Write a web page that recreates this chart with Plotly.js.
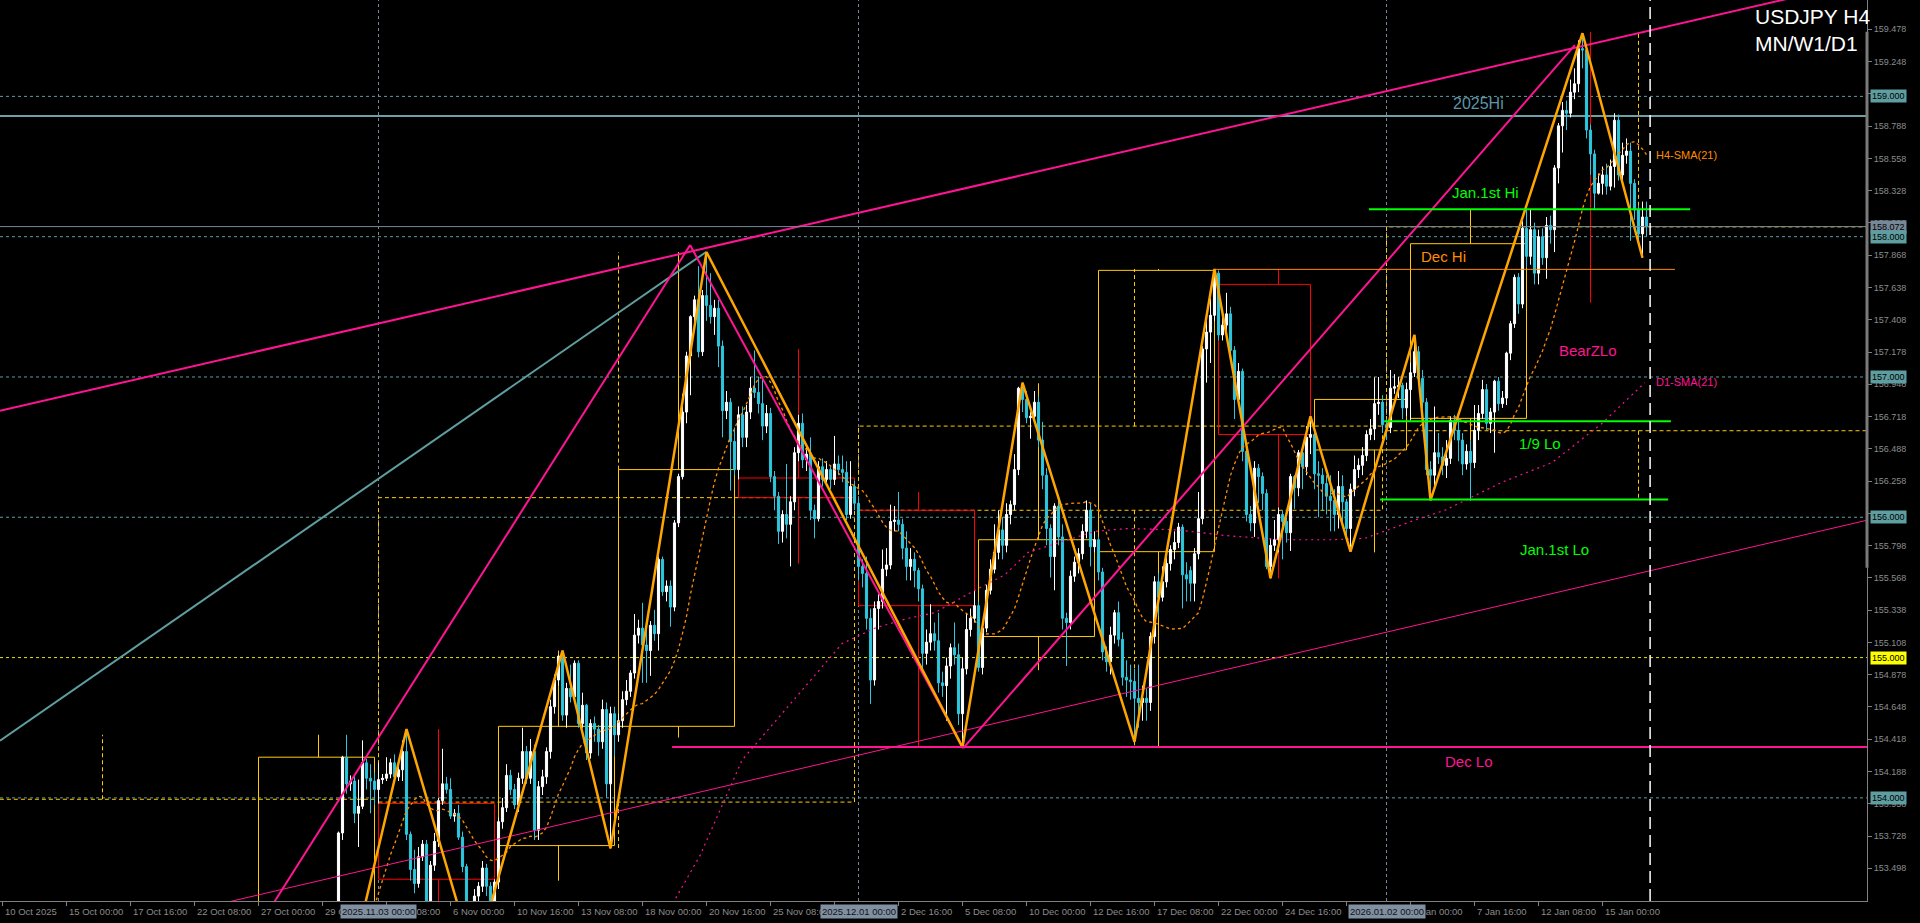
<!DOCTYPE html>
<html>
<head>
<meta charset="utf-8">
<script src="https://cdn.plot.ly/plotly-3.0.1.min.js"></script>
<style>
html,body{margin:0;padding:0;background:#000;overflow:hidden;}
#chart{width:1920px;height:923px;}
</style>
</head>
<body>
<div id="chart"></div>
<script>
// ---------- DATA (bar index 0 = 15 Oct 2025 00:00, H4 bars) ----------
const FIRST_BAR = 57;
const barOpen = [
152.30,152.20,152.10,152.25,152.45,152.60,152.50,152.40,152.30,152.70,
152.55,153.10,153.75,154.29,154.10,154.12,153.89,153.94,154.25,154.14,
154.12,154.06,154.13,154.14,154.17,154.25,154.15,154.20,154.33,153.74,
153.49,153.39,153.58,153.67,153.20,153.52,153.69,153.98,154.10,154.06,
153.87,153.89,153.72,153.51,153.15,153.05,153.30,153.37,153.50,153.37,
153.26,153.40,153.83,153.93,154.16,154.06,153.95,154.14,154.33,154.14,
154.33,153.77,154.08,154.15,154.33,154.65,154.84,155.01,154.59,154.78,
154.72,154.96,154.53,154.66,154.32,154.53,154.49,154.40,154.63,154.10,
154.60,154.45,154.55,154.70,154.76,154.89,155.16,155.21,155.09,155.05,
155.23,155.17,155.70,155.47,155.51,155.36,155.96,156.29,156.75,157.15,
157.43,157.55,157.18,157.58,157.51,157.43,157.49,157.22,156.76,156.82,
156.54,156.34,156.73,156.57,156.75,156.92,156.89,156.81,156.65,156.74,
156.29,156.15,155.90,156.02,155.95,156.11,156.46,156.67,156.41,156.45,
156.05,155.99,156.36,156.27,156.34,156.27,156.38,156.34,156.32,156.02,
156.22,156.10,155.65,155.60,155.28,154.84,155.35,155.40,155.63,155.66,
155.97,155.98,155.95,155.78,155.65,155.70,155.62,155.49,155.03,155.11,
155.17,155.12,154.82,154.80,154.94,155.07,155.02,154.60,154.92,155.20,
155.28,155.37,154.93,155.21,155.48,155.63,155.75,155.91,155.80,156.02,
156.09,156.34,156.92,156.84,156.71,156.72,156.82,156.55,156.30,155.92,
155.72,156.08,155.86,155.28,155.25,155.58,155.68,155.74,155.90,156.05,
155.79,155.84,155.61,155.04,154.97,155.16,155.32,155.13,154.86,154.84,
154.83,154.71,154.68,154.71,154.68,155.15,155.54,155.43,155.54,155.67,
155.77,155.82,155.93,155.59,155.62,155.53,155.74,155.99,157.20,157.32,
157.44,157.74,157.30,157.37,157.45,157.19,156.84,157.04,156.47,156.02,
155.96,156.35,156.29,156.17,155.65,155.80,155.84,156.02,155.97,155.89,
156.29,156.21,156.46,156.36,156.57,156.59,156.31,156.30,156.24,156.15,
156.12,156.02,156.22,156.11,155.92,156.20,156.34,156.37,156.44,156.59,
156.63,156.81,156.82,156.66,156.64,156.92,156.93,156.94,156.78,156.91,
157.03,157.18,156.99,156.82,156.34,156.30,156.46,156.43,156.37,156.42,
156.69,156.62,156.55,156.38,156.47,156.39,156.62,156.74,156.91,156.67,
156.75,156.97,156.81,156.85,157.17,157.38,157.71,157.52,158.06,157.86,
158.05,157.74,158.00,157.85,158.08,158.05,158.49,158.79,158.90,158.88,
159.03,159.09,159.34,159.33,158.76,158.59,158.31,158.38,158.44,158.36,
158.50,158.83,158.44,158.58,158.61,158.38,158.19,158.02,158.14];
const barHigh = [
152.45,152.35,152.30,152.55,152.75,152.80,152.70,152.60,152.80,152.90,
153.15,153.76,154.30,154.45,154.16,154.16,154.13,154.41,154.28,154.24,
154.18,154.25,154.17,154.29,154.28,154.31,154.23,154.41,154.49,153.76,
153.63,153.65,153.70,153.70,153.55,153.75,154.00,154.35,154.15,154.14,
153.92,153.95,153.76,153.53,153.20,153.35,153.40,153.55,153.53,153.40,
153.42,153.86,154.00,154.24,154.20,154.10,154.18,154.50,154.37,154.42,
154.38,154.12,154.20,154.36,154.70,154.88,155.02,155.05,154.82,154.95,
154.98,154.98,154.75,154.67,154.56,154.58,154.52,154.70,154.68,154.65,
154.65,154.60,154.76,154.84,154.91,155.31,155.27,155.39,155.27,155.26,
155.34,155.72,155.72,155.55,155.55,155.98,156.31,156.88,157.18,157.44,
157.58,157.79,157.62,157.89,157.74,157.55,157.55,157.26,156.90,156.85,
156.64,156.79,156.79,156.80,157.00,157.19,157.00,156.98,156.80,156.78,
156.33,156.18,156.05,156.38,156.15,156.50,156.73,156.74,156.52,156.57,
156.09,156.40,156.42,156.40,156.37,156.58,156.44,156.44,156.40,156.40,
156.26,156.14,155.70,155.72,155.35,155.40,155.45,155.77,155.78,156.09,
156.08,156.18,155.99,155.90,155.78,155.75,155.64,155.52,155.20,155.38,
155.25,155.32,154.90,155.00,155.10,155.25,155.10,155.00,155.31,155.35,
155.48,155.40,155.25,155.52,155.70,155.95,156.05,156.00,156.10,156.12,
156.45,156.93,156.96,156.90,156.75,156.90,156.86,156.68,156.35,155.95,
156.10,156.16,155.95,155.32,155.62,155.72,155.78,155.95,156.12,156.10,
155.90,155.86,155.64,155.08,155.22,155.34,155.40,155.18,154.98,154.95,
154.92,154.95,154.80,154.78,155.18,155.58,155.60,155.65,155.75,155.80,
155.90,155.96,155.95,155.68,155.65,155.78,156.18,157.22,157.42,157.56,
157.77,157.76,157.45,157.60,157.50,157.22,157.10,157.06,156.50,156.08,
156.40,156.38,156.32,156.20,155.85,155.98,156.07,156.05,156.00,156.31,
156.30,156.48,156.49,156.65,156.72,156.60,156.40,156.35,156.30,156.30,
156.20,156.33,156.30,156.13,156.24,156.44,156.42,156.50,156.62,156.70,
156.99,157.00,156.87,156.70,157.05,157.02,157.00,156.96,156.96,157.10,
157.30,157.22,157.05,156.85,156.40,156.79,156.60,156.50,156.55,156.72,
156.73,156.72,156.60,156.52,156.55,156.80,156.80,156.98,156.95,156.78,
156.98,157.00,156.90,157.18,157.40,157.73,157.74,158.11,158.19,158.19,
158.10,158.05,158.06,158.14,158.15,158.51,158.81,158.96,158.97,159.12,
159.20,159.40,159.45,159.36,158.80,158.62,158.45,158.50,158.52,158.55,
158.88,158.87,158.67,158.70,158.67,158.41,158.22,158.25,158.25];
const barLow = [
152.10,152.00,151.90,152.15,152.35,152.40,152.30,152.25,152.25,152.20,
152.45,152.95,153.70,154.03,154.05,153.82,153.65,153.92,154.06,153.89,
153.95,153.96,154.10,154.12,154.14,154.13,154.12,154.12,153.70,153.41,
153.32,153.36,153.55,153.10,153.10,153.48,153.65,153.95,154.03,153.85,
153.83,153.70,153.47,153.05,152.95,152.83,153.22,153.33,153.30,153.20,
153.00,153.35,153.78,153.90,154.02,153.92,153.90,154.10,154.10,154.10,
153.70,153.70,154.02,154.10,154.28,154.60,154.80,154.55,154.50,154.68,
154.68,154.50,154.50,154.27,154.28,154.40,154.30,154.35,154.00,153.64,
154.30,154.40,154.50,154.66,154.72,154.85,155.10,154.82,154.82,154.87,
155.12,155.05,155.44,155.40,155.22,155.33,155.93,156.27,156.67,156.87,
157.35,157.14,157.15,157.40,157.38,157.30,157.07,156.57,156.70,156.19,
156.30,156.27,156.50,156.50,156.70,156.85,156.74,156.55,156.60,156.25,
156.05,155.81,155.82,155.85,155.65,156.05,156.40,156.35,156.33,155.98,
155.85,155.97,156.22,156.25,156.20,156.23,156.30,156.25,155.98,155.99,
156.05,155.55,155.50,155.20,154.67,154.80,155.20,155.35,155.58,155.63,
155.90,155.90,155.70,155.55,155.55,155.50,155.40,154.90,154.95,155.05,
155.05,154.75,154.72,154.55,154.85,154.95,154.52,154.36,154.88,155.15,
155.25,154.90,154.88,155.18,155.45,155.60,155.70,155.70,155.75,155.95,
156.05,156.30,156.75,156.67,156.56,156.68,156.50,156.20,155.80,155.57,
155.48,155.80,155.20,154.94,155.20,155.54,155.60,155.70,155.85,155.65,
155.75,155.55,154.98,154.90,154.88,155.10,155.08,154.80,154.72,154.70,
154.40,154.50,154.55,154.55,154.62,155.10,155.30,155.40,155.50,155.62,
155.70,155.78,155.35,155.40,155.40,155.40,155.70,155.95,156.96,157.10,
157.40,157.26,157.26,157.30,157.13,156.70,156.80,156.40,155.97,155.90,
155.86,156.10,156.05,155.63,155.565,155.76,155.75,155.70,155.82,155.76,
156.06,156.15,156.20,156.30,156.45,156.20,156.00,156.05,156.02,155.90,
155.90,155.92,155.95,155.85,155.755,156.15,156.28,156.30,156.40,156.55,
156.55,156.73,156.60,156.55,156.60,156.88,156.85,156.70,156.72,156.69,
157.00,156.95,156.78,156.30,156.12,156.22,156.38,156.30,156.28,156.38,
156.55,156.40,156.30,156.34,156.12,156.35,156.55,156.70,156.62,156.60,
156.46,156.76,156.78,156.80,157.12,157.35,157.45,157.49,157.78,157.80,
157.66,157.66,157.80,157.70,157.95,157.89,158.38,158.60,158.76,158.85,
158.98,159.03,159.20,158.70,158.44,158.19,158.30,158.30,158.30,158.33,
158.35,158.40,158.40,158.52,157.97,158.12,157.95,157.85,158.00];
const barClose = [
152.20,152.10,152.25,152.45,152.60,152.50,152.40,152.30,152.70,152.55,
153.10,153.75,154.29,154.10,154.12,153.89,153.94,154.25,154.14,154.12,
154.06,154.13,154.14,154.17,154.25,154.15,154.20,154.33,153.74,153.49,
153.39,153.58,153.67,153.20,153.52,153.69,153.98,154.10,154.06,153.87,
153.89,153.72,153.51,153.15,153.05,153.30,153.37,153.50,153.37,153.26,
153.40,153.83,153.93,154.16,154.06,153.95,154.14,154.33,154.14,154.33,
153.77,154.08,154.15,154.33,154.65,154.84,155.01,154.59,154.78,154.72,
154.96,154.53,154.66,154.32,154.53,154.49,154.40,154.63,154.10,154.60,
154.45,154.55,154.70,154.76,154.89,155.16,155.21,155.09,155.05,155.23,
155.17,155.70,155.47,155.51,155.36,155.96,156.29,156.75,157.15,157.43,
157.55,157.18,157.58,157.51,157.43,157.49,157.22,156.76,156.82,156.54,
156.34,156.73,156.57,156.75,156.92,156.89,156.81,156.65,156.74,156.29,
156.15,155.90,156.02,155.95,156.11,156.46,156.67,156.41,156.45,156.05,
155.99,156.36,156.27,156.34,156.27,156.38,156.34,156.32,156.02,156.22,
156.10,155.65,155.60,155.28,154.84,155.35,155.40,155.63,155.66,155.97,
155.98,155.95,155.78,155.65,155.70,155.62,155.49,155.03,155.11,155.17,
155.12,154.82,154.80,154.94,155.07,155.02,154.60,154.92,155.20,155.28,
155.37,154.93,155.21,155.48,155.63,155.75,155.91,155.80,156.02,156.09,
156.34,156.92,156.84,156.71,156.72,156.82,156.55,156.30,155.92,155.72,
156.08,155.86,155.28,155.25,155.58,155.68,155.74,155.90,156.05,155.79,
155.84,155.61,155.04,154.97,155.16,155.32,155.13,154.86,154.84,154.83,
154.71,154.68,154.71,154.68,155.15,155.54,155.43,155.54,155.67,155.77,
155.82,155.93,155.59,155.56,155.53,155.74,155.99,157.20,157.32,157.44,
157.74,157.30,157.37,157.45,157.19,156.84,157.04,156.47,156.02,155.96,
156.35,156.29,156.17,155.65,155.80,155.84,156.02,155.97,155.89,156.29,
156.21,156.46,156.36,156.57,156.59,156.31,156.30,156.24,156.15,156.12,
156.02,156.22,156.11,155.92,156.20,156.34,156.37,156.44,156.59,156.63,
156.81,156.82,156.66,156.64,156.92,156.93,156.94,156.78,156.91,157.03,
157.18,156.99,156.82,156.34,156.30,156.46,156.43,156.37,156.42,156.69,
156.62,156.55,156.38,156.47,156.39,156.62,156.74,156.91,156.67,156.75,
156.97,156.81,156.85,157.17,157.38,157.71,157.52,158.06,157.86,158.05,
157.74,158.00,157.85,158.08,158.05,158.49,158.79,158.90,158.88,159.03,
159.09,159.34,159.33,158.76,158.59,158.31,158.38,158.44,158.36,158.50,
158.83,158.44,158.58,158.61,158.38,158.19,158.02,158.14,158.07];

// ZigZag swing points
const zzBar   = [66, 85, 102, 124, 136, 160, 224, 239, 267, 287, 301, 311, 321, 337, 341, 379, 394];
const zzPrice = [152.20, 154.49, 152.83, 155.05, 153.64, 157.89, 154.36, 156.96, 154.40, 157.77, 155.565, 156.72, 155.755, 157.30, 156.12, 159.45, 157.85];

// Trend lines (anchor bar, price)
const tlFromBar   = [-16.625, -16.625, 40, 155.9, 224.2, 30];
const tlFromPrice = [156.760, 154.407, 152.72, 157.94, 154.354, 153.189];
const tlToBar     = [450.125, 160, 155.9, 224.2, 377.1, 450.125];
const tlToPrice   = [159.826, 157.893, 157.94, 154.354, 159.366, 155.979];

// D1 SMA(21) readings
const d1Bar   = [148.6,158.4,168.9,177.1,193.9,202.1,210.4,217.1,227.1,234.6,240.4,257.1,265.4,277.9,289.6,303.9,316.4,324.6,330.4,337.1,344.6,358.9,371.4,383.9,394.6];
const d1Price = [153.10,153.59,154.27,154.54,155.10,155.21,155.28,155.32,155.48,155.59,155.75,155.90,155.92,155.91,155.87,155.84,155.84,155.85,155.91,155.98,156.05,156.25,156.39,156.67,156.96];

// Weekly candles (drawn as boxes)
const wkFrom  = [48, 78, 108, 138, 168, 198, 228, 258, 288, 312, 336];
const wkTo    = [77, 107, 137, 167, 197, 227, 257, 287, 311, 335, 365];
const wkMid   = [63, 93, 123, 153, 183, 213, 243, 273, 303, 327, 351];
const wkOpen  = [152.90, 153.96, 153.66, 154.51, 156.28, 156.05, 155.15, 155.755, 157.66, 156.48, 156.705];
const wkHigh  = [154.45, 154.49, 155.05, 157.89, 157.20, 156.18, 156.955, 157.77, 157.77, 157.00, 158.19];
const wkLow   = [151.70, 152.83, 153.41, 154.43, 155.67, 154.36, 154.91, 154.36, 155.565, 155.75, 156.12];
const wkClose = [154.29, 153.42, 154.51, 156.34, 156.14, 155.37, 155.84, 157.76, 156.59, 156.84, 157.95];
const curWkMid = 381, curWkHigh = 159.46, curWkLow = 157.53;

// Monthly candles (dashed boxes)
const moFrom  = [-70, 78, 198, 330];
const moTo    = [77, 197, 329, 455];
const moMid   = [9, 138, 267, 393];
const moOpen  = [147.90, 153.97, 156.05, 156.617];
const moHigh  = [154.45, 157.89, 157.77, 159.45];
const moLow   = [146.60, 153.64, 154.36, 156.12];
const moClose = [153.99, 156.14, 156.65, 158.07];

// Horizontal levels
const roundLevels = [159.0, 158.0, 157.0, 156.0, 155.0, 154.0];
const hi2025 = 158.86;
const lastPrice = 158.072;
const lvlPrice = [158.195, 157.767, 156.685, 156.126, 154.363];
const lvlFrom  = [325.6, 287, 329.4, 328.4, 151.4];
const lvlTo    = [405.9, 402.1, 401.1, 400.4, 450.125];

// Text labels
const lblText  = ['2025Hi', 'Jan.1st Hi', 'Dec Hi', 'BearZLo', '1/9 Lo', 'Jan.1st Lo', 'Dec Lo', 'H4-SMA(21)', 'D1-SMA(21)'];
const lblBar   = [346.1, 345.9, 338.1, 372.6, 362.6, 362.9, 344.0, 396.9, 396.9];
const lblPrice = [158.946, 158.315, 157.859, 157.192, 156.526, 155.77, 154.256, 158.582, 156.964];

// Axis labels (labels fully hidden under the period-separator tags are omitted)
const xTickBar = [-16,0,16,32,48,64,80,96,112,128,144,160,176,192,208,224,240,256,272,288,304,320,336,352,368,384];
const xLabelBar = [-16,0,16,32,48,64,80,96,112,128,144,160,176,208,224,240,256,272,288,304,336,352,368,384];
const xLabelText = ['10 Oct 2025','15 Oct 00:00','17 Oct 16:00','22 Oct 08:00','27 Oct 00:00','29 Oct 16:00','3 Nov 08:00','6 Nov 00:00','10 Nov 16:00','13 Nov 08:00','18 Nov 00:00','20 Nov 16:00','25 Nov 08:00','2 Dec 16:00','5 Dec 08:00','10 Dec 00:00','12 Dec 16:00','17 Dec 08:00','22 Dec 00:00','24 Dec 16:00','5 Jan 00:00','7 Jan 16:00','12 Jan 08:00','15 Jan 00:00'];
const sepBar = [78, 198, 330];
const sepText = ['2025.11.03 00:00', '2025.12.01 00:00', '2026.01.02 00:00'];
const nowBar = 395.9;
const yTickVals = [153.498,153.728,153.958,154.188,154.418,154.648,154.878,155.108,155.338,155.568,155.798,156.028,156.258,156.488,156.718,156.948,157.178,157.408,157.638,157.868,158.098,158.328,158.558,158.788,159.018,159.248,159.478];
const tagPrice = [159.000, 158.072, 158.000, 157.000, 156.000, 155.000, 154.000];

// ---------- STYLES ----------
const FONT = 'Liberation Sans, Arial, sans-serif';
const GOLD = '#ffcc00', RED = '#ff0000', PINK = '#ff1493', TEAL = '#5f9ea0', GREEN = '#00ff00', ORANGE = '#ff8c00';
const tlColor = [PINK, TEAL, PINK, PINK, PINK, PINK];
const tlWidth = [2, 2, 2, 2, 2, 1];
const lvlColor = [GREEN, ORANGE, GREEN, GREEN, PINK];
const lvlWidth = [2, 1, 2, 2, 2];
const lblColor = ['#5b95a8', GREEN, ORANGE, PINK, GREEN, GREEN, PINK, ORANGE, PINK];
const lblSize  = [16, 15, 15, 15, 15, 15, 15, 11, 11];
const tagBg = [TEAL, '#778899', TEAL, TEAL, TEAL, '#ffff00', TEAL];

// ---------- BUILD ----------
const barIndex = barOpen.map((_, k) => FIRST_BAR + k);
function sma(vals, n) {
  return vals.map((_, k) => {
    if (k < n - 1) return null;
    let s = 0; for (let j = k - n + 1; j <= k; j++) s += vals[j];
    return s / n;
  });
}
const h4Sma = sma(barClose, 21);

const traces = [];
traces.push({
  type: 'candlestick', x: barIndex, open: barOpen, high: barHigh, low: barLow, close: barClose,
  increasing: {line: {color: '#ffffff', width: 1}, fillcolor: '#ffffff'},
  decreasing: {line: {color: '#2ec6dc', width: 1}, fillcolor: '#2ec6dc'},
  whiskerwidth: 0, hoverinfo: 'skip', showlegend: false
});
traces.push({type: 'scatter', mode: 'lines', x: barIndex, y: h4Sma,
  line: {color: ORANGE, width: 1.3, dash: '3px,3px'}, hoverinfo: 'skip', showlegend: false});
traces.push({type: 'scatter', mode: 'lines', x: d1Bar, y: d1Price,
  line: {color: PINK, width: 1.2, dash: '2px,4px'}, hoverinfo: 'skip', showlegend: false});
for (let k = 0; k < tlFromBar.length; k++) {
  traces.push({type: 'scatter', mode: 'lines', x: [tlFromBar[k], tlToBar[k]], y: [tlFromPrice[k], tlToPrice[k]],
    line: {color: tlColor[k], width: tlWidth[k]}, hoverinfo: 'skip', showlegend: false});
}
traces.push({type: 'scatter', mode: 'lines', x: zzBar, y: zzPrice,
  line: {color: '#ffa500', width: 2.5}, hoverinfo: 'skip', showlegend: false});

const shapes = [];
roundLevels.forEach(p => shapes.push({type: 'line', xref: 'paper', x0: 0, x1: 1, yref: 'y', y0: p, y1: p,
  line: {color: p === 155 ? '#e6e600' : TEAL, width: 1, dash: '3px,3px'}, layer: 'below'}));
shapes.push({type: 'line', xref: 'paper', x0: 0, x1: 1, yref: 'y', y0: hi2025, y1: hi2025,
  line: {color: '#6fa0a8', width: 2}, layer: 'below'});
sepBar.forEach(b => shapes.push({type: 'line', xref: 'x', x0: b, x1: b, yref: 'paper', y0: 0, y1: 1,
  line: {color: '#778899', width: 1, dash: '3px,3px'}, layer: 'below'}));
for (let k = 0; k < moFrom.length; k++) {
  const col = moClose[k] >= moOpen[k] ? GOLD : RED;
  const top = Math.max(moOpen[k], moClose[k]), bot = Math.min(moOpen[k], moClose[k]);
  shapes.push({type: 'rect', xref: 'x', yref: 'y', x0: moFrom[k], x1: moTo[k], y0: bot, y1: top,
    line: {color: col, width: 1, dash: '4px,3px'}, fillcolor: 'rgba(0,0,0,0)', layer: 'below'});
  shapes.push({type: 'line', xref: 'x', yref: 'y', x0: moMid[k], x1: moMid[k], y0: top, y1: moHigh[k],
    line: {color: col, width: 1, dash: '4px,3px'}, layer: 'below'});
  shapes.push({type: 'line', xref: 'x', yref: 'y', x0: moMid[k], x1: moMid[k], y0: bot, y1: moLow[k],
    line: {color: col, width: 1, dash: '4px,3px'}, layer: 'below'});
}
for (let k = 0; k < wkFrom.length; k++) {
  const col = wkClose[k] >= wkOpen[k] ? GOLD : RED;
  const top = Math.max(wkOpen[k], wkClose[k]), bot = Math.min(wkOpen[k], wkClose[k]);
  shapes.push({type: 'rect', xref: 'x', yref: 'y', x0: wkFrom[k], x1: wkTo[k], y0: bot, y1: top,
    line: {color: col, width: 1}, fillcolor: 'rgba(0,0,0,0)', layer: 'below'});
  shapes.push({type: 'line', xref: 'x', yref: 'y', x0: wkMid[k], x1: wkMid[k], y0: top, y1: wkHigh[k],
    line: {color: col, width: 1}, layer: 'below'});
  shapes.push({type: 'line', xref: 'x', yref: 'y', x0: wkMid[k], x1: wkMid[k], y0: bot, y1: wkLow[k],
    line: {color: col, width: 1}, layer: 'below'});
}
shapes.push({type: 'line', xref: 'x', yref: 'y', x0: curWkMid, x1: curWkMid, y0: curWkLow, y1: curWkHigh,
  line: {color: RED, width: 1}, layer: 'below'});
shapes.push({type: 'line', xref: 'paper', x0: 0, x1: 1, yref: 'y', y0: lastPrice, y1: lastPrice,
  line: {color: '#778899', width: 1}, layer: 'above'});
for (let k = 0; k < lvlPrice.length; k++) {
  shapes.push({type: 'line', xref: 'x', yref: 'y', x0: lvlFrom[k], x1: lvlTo[k], y0: lvlPrice[k], y1: lvlPrice[k],
    line: {color: lvlColor[k], width: lvlWidth[k]}, layer: 'above'});
}
shapes.push({type: 'line', xref: 'x', x0: nowBar, x1: nowBar, yref: 'paper', y0: 0, y1: 1,
  line: {color: '#ffffff', width: 1.5, dash: '12px,6px'}, layer: 'above'});
shapes.push({type: 'line', xref: 'paper', x0: 1, x1: 1, yref: 'y', y0: 155.64, y1: 159.46,
  line: {color: '#7a7a7a', width: 3}, layer: 'above'});

const annotations = [];
for (let k = 0; k < xLabelBar.length; k++) {
  annotations.push({xref: 'x', x: xLabelBar[k], xanchor: 'left', xshift: 0, yref: 'paper', y: 0, yanchor: 'top', yshift: -3,
    text: xLabelText[k], showarrow: false, font: {family: FONT, size: 9.5, color: '#8c8c8c'}});
}
for (let k = 0; k < sepBar.length; k++) {
  annotations.push({xref: 'x', x: sepBar[k], xanchor: 'center', yref: 'paper', y: 0, yanchor: 'top', yshift: -3,
    text: sepText[k], showarrow: false, bgcolor: '#8090a2', borderpad: 1,
    font: {family: FONT, size: 9.5, color: '#111111'}});
}
for (let k = 0; k < tagPrice.length; k++) {
  annotations.push({xref: 'paper', x: 1, xanchor: 'left', xshift: 3, yref: 'y', y: tagPrice[k], yanchor: 'middle',
    text: tagPrice[k].toFixed(3), showarrow: false, bgcolor: tagBg[k], borderpad: 1,
    font: {family: FONT, size: 9, color: '#000000'}});
}
for (let k = 0; k < lblText.length; k++) {
  annotations.push({xref: 'x', x: lblBar[k], xanchor: 'left', yref: 'y', y: lblPrice[k], yanchor: 'middle',
    text: lblText[k], showarrow: false, font: {family: FONT, size: lblSize[k], color: lblColor[k]}});
}
annotations.push({xref: 'paper', x: 1753 / 1867, xanchor: 'left', yref: 'paper', y: 1, yanchor: 'top', yshift: -3,
  text: 'USDJPY H4', showarrow: false, font: {family: FONT, size: 21, color: '#ffffff'}});
annotations.push({xref: 'paper', x: 1753 / 1867, xanchor: 'left', yref: 'paper', y: 1, yanchor: 'top', yshift: -30,
  text: 'MN/W1/D1', showarrow: false, font: {family: FONT, size: 21, color: '#ffffff'}});

const layout = {
  width: 1920, height: 923,
  margin: {l: 0, r: 53, t: 0, b: 22, pad: 0},
  paper_bgcolor: '#000000', plot_bgcolor: '#000000',
  showlegend: false,
  xaxis: {type: 'linear', range: [-16.625, 450.125], showgrid: false, zeroline: false,
    showticklabels: false, tickvals: xTickBar, ticks: 'outside', ticklen: 4, tickcolor: '#808080',
    showline: true, linecolor: '#808080', linewidth: 1, rangeslider: {visible: false}, fixedrange: true},
  yaxis: {side: 'right', range: [153.265, 159.687], showgrid: false, zeroline: false,
    tickvals: yTickVals, ticktext: yTickVals.map(v => v.toFixed(3)), ticks: 'outside', ticklen: 4,
    tickcolor: '#808080', tickfont: {family: FONT, size: 9, color: '#8c8c8c'},
    showline: true, linecolor: '#808080', linewidth: 1, fixedrange: true},
  shapes: shapes,
  annotations: annotations,
  boxgap: 0.25
};
Plotly.newPlot('chart', traces, layout, {staticPlot: true, displayModeBar: false});
</script>
</body>
</html>
